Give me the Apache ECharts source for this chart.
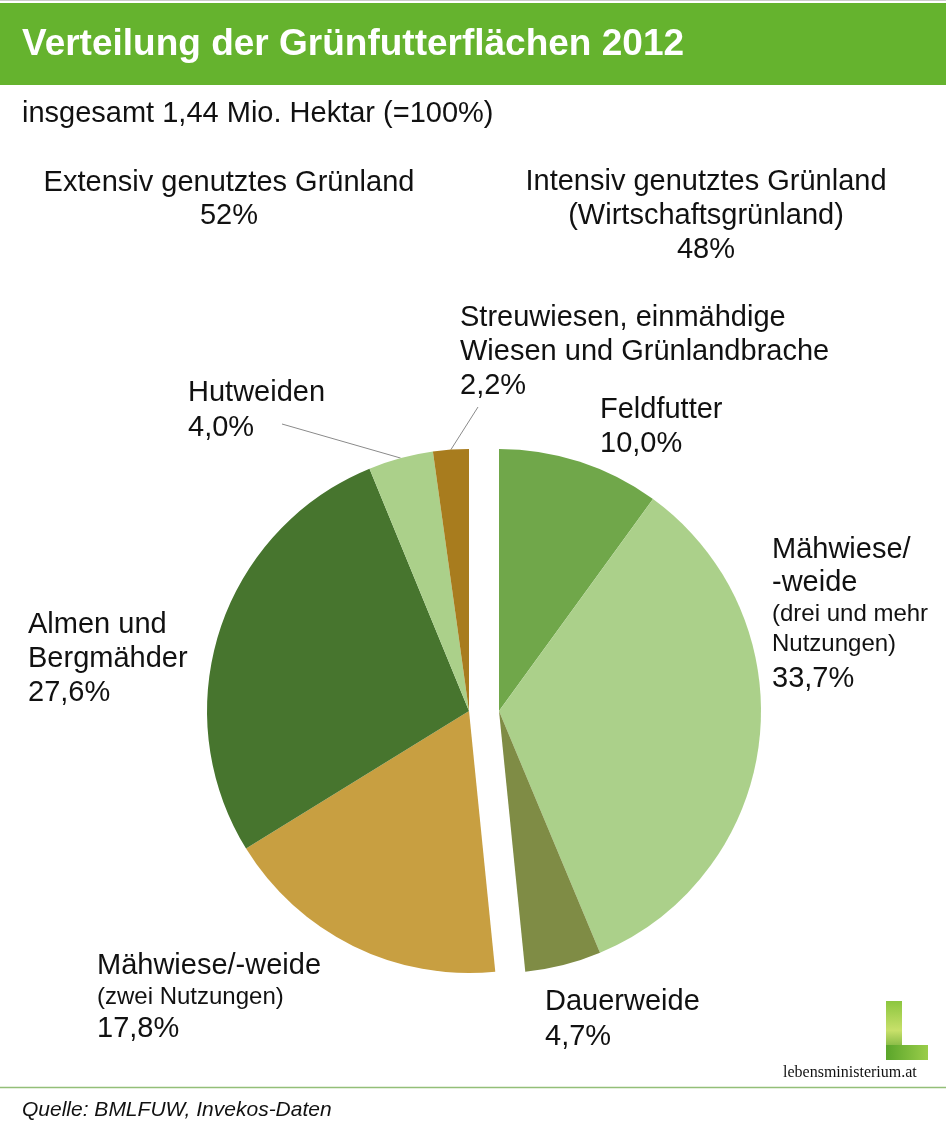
<!DOCTYPE html>
<html><head><meta charset="utf-8">
<script src="https://cdn.jsdelivr.net/npm/echarts@6/dist/echarts.min.js"></script>
<style>html,body{margin:0;padding:0;background:#fff}#c{width:946px;height:1129px}</style>
</head><body><div id="c"></div>
<script>
// Intensive group (right part of the pie, starts at 12 o'clock, clockwise)
const intensivNames = ['Feldfutter', 'Mähwiese/-weide (drei und mehr Nutzungen)', 'Dauerweide'];
const intensivValues = [10.0, 33.7, 4.7];
// Extensive group (left part of the pie)
const extensivNames = ['Mähwiese/-weide (zwei Nutzungen)', 'Almen und Bergmähder', 'Hutweiden', 'Streuwiesen, einmähdige Wiesen und Grünlandbrache'];
const extensivValues = [17.8, 27.6, 4.0, 2.2];
const groupShares = [48, 52]; // Intensiv, Extensiv (%)

const intensivColors = ['#70a74a', '#abd08a', '#7f8c45'];
const extensivColors = ['#c89f41', '#47752e', '#abd08a', '#a87c1e'];

const sum = a => a.reduce((s, v) => s + v, 0);
const fmt = v => v.toFixed(1).replace('.', ',') + '%';
const R = 262;
const cRight = [499, 711], cLeft = [469, 711];
const FONT = '"Liberation Sans", Arial, sans-serif';

const blank = v => ({ value: v, name: '', itemStyle: { color: 'rgba(0,0,0,0)' }, emphasis: { disabled: true }, tooltip: { show: false } });

const rightData = intensivValues.map((v, i) => ({ value: v, name: intensivNames[i], itemStyle: { color: intensivColors[i] } }));
rightData.push(blank(sum(extensivValues)));
const leftData = [blank(sum(intensivValues))].concat(extensivValues.map((v, i) => ({ value: v, name: extensivNames[i], itemStyle: { color: extensivColors[i] } })));

const total = sum(intensivValues) + sum(extensivValues);
// pixel point on the rim of the left pie at the middle of extensive slice i
function rimPoint(i) {
  let before = sum(intensivValues) + sum(extensivValues.slice(0, i));
  const mid = (before + extensivValues[i] / 2) / total * Math.PI * 2;
  return [cLeft[0] + R * Math.sin(mid), cLeft[1] - R * Math.cos(mid)];
}

const T = (x, y, text, size, opt) => Object.assign({
  type: 'text', x: x, y: y, silent: true,
  style: Object.assign({ text: text, fill: '#111', font: (opt && opt.font) || (size + 'px ' + FONT), textAlign: 'left', textVerticalAlign: 'middle' }, (opt && opt.style) || {})
}, {});
const M = 29, S = 24;

const hut = rimPoint(2), streu = rimPoint(3);

const graphics = [
  { type: 'rect', shape: { x: 0, y: 3, width: 946, height: 82 }, style: { fill: '#65b32e' }, silent: true },
  { type: 'line', shape: { x1: 0, y1: 0.5, x2: 946, y2: 0.5 }, style: { stroke: '#cccccc', lineWidth: 1 }, silent: true },
  T(22, 45, 'Verteilung der Grünfutterflächen 2012', 0, { font: 'bold 37px ' + FONT, style: { fill: '#ffffff' } }),
  T(22, 114, 'insgesamt 1,44 Mio. Hektar (=100%)', M),
  T(229, 183, 'Extensiv genutztes Grünland', M, { style: { textAlign: 'center' } }),
  T(229, 216, groupShares[1] + '%', M, { style: { textAlign: 'center' } }),
  T(706, 182, 'Intensiv genutztes Grünland', M, { style: { textAlign: 'center' } }),
  T(706, 216, '(Wirtschaftsgrünland)', M, { style: { textAlign: 'center' } }),
  T(706, 250, groupShares[0] + '%', M, { style: { textAlign: 'center' } }),
  T(460, 318, 'Streuwiesen, einmähdige', M),
  T(460, 352, 'Wiesen und Grünlandbrache', M),
  T(460, 386, fmt(extensivValues[3]), M),
  T(188, 393, extensivNames[2], M),
  T(188, 428, fmt(extensivValues[2]), M),
  T(600, 410, intensivNames[0], M),
  T(600, 444, fmt(intensivValues[0]), M),
  T(772, 550, 'Mähwiese/', M),
  T(772, 583, '-weide', M),
  T(772, 614, '(drei und mehr', S),
  T(772, 644, 'Nutzungen)', S),
  T(772, 679, fmt(intensivValues[1]), M),
  T(28, 625, 'Almen und', M),
  T(28, 659, 'Bergmähder', M),
  T(28, 693, fmt(extensivValues[1]), M),
  T(97, 966, 'Mähwiese/-weide', M),
  T(97, 997, '(zwei Nutzungen)', S),
  T(97, 1029, fmt(extensivValues[0]), M),
  T(545, 1002, intensivNames[2], M),
  T(545, 1037, fmt(intensivValues[2]), M),
  { type: 'line', shape: { x1: 282, y1: 424, x2: hut[0], y2: hut[1] }, style: { stroke: '#8a8a8a', lineWidth: 1 }, silent: true },
  { type: 'line', shape: { x1: 478, y1: 407, x2: streu[0], y2: streu[1] }, style: { stroke: '#8a8a8a', lineWidth: 1 }, silent: true },
  // footer
  { type: 'line', shape: { x1: 0, y1: 1087.5, x2: 946, y2: 1087.5 }, style: { stroke: '#93bf78', lineWidth: 1.5 }, silent: true },
  T(22, 1110, 'Quelle: BMLFUW, Invekos-Daten', 0, { font: 'italic 21px ' + FONT }),
  // logo
  { type: 'rect', shape: { x: 886, y: 1001, width: 16, height: 59 }, style: { fill: { type: 'linear', x: 0, y: 0, x2: 0, y2: 1, colorStops: [{ offset: 0, color: '#8cc63f' }, { offset: 0.5, color: '#c8e06a' }, { offset: 1, color: '#4e9a26' }] } }, silent: true },
  { type: 'rect', shape: { x: 886, y: 1045, width: 42, height: 15 }, style: { fill: { type: 'linear', x: 0, y: 0, x2: 1, y2: 0, colorStops: [{ offset: 0, color: '#5aa52a' }, { offset: 1, color: '#9acd4a' }] } }, silent: true },
  T(783, 1073, 'lebensministerium.at', 0, { font: '16px "Liberation Serif", "Times New Roman", serif' })
];

const chart = echarts.init(document.getElementById('c'), null, { renderer: 'canvas' });
const pieBase = { type: 'pie', radius: [0, R], startAngle: 90, clockwise: true, label: { show: false }, labelLine: { show: false }, silent: true, animation: false, avoidLabelOverlap: false, minAngle: 0, itemStyle: { borderWidth: 0 } };
chart.setOption({
  animation: false,
  series: [
    Object.assign({}, pieBase, { name: 'Intensiv', center: cRight, data: rightData }),
    Object.assign({}, pieBase, { name: 'Extensiv', center: cLeft, data: leftData })
  ],
  graphic: graphics
});
</script></body></html>
